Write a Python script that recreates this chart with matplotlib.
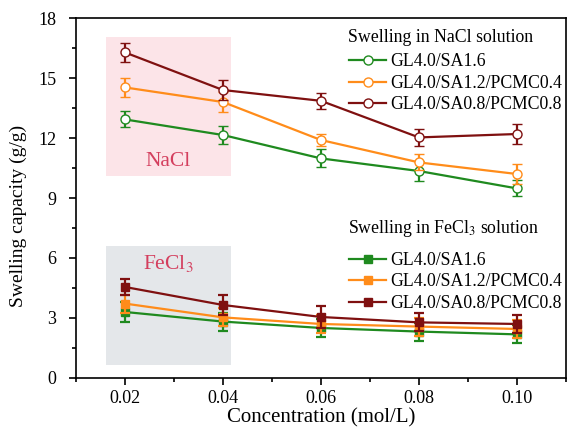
import numpy as np
import matplotlib
matplotlib.use("Agg")
import matplotlib.pyplot as plt
from matplotlib.lines import Line2D
from matplotlib.patches import Rectangle

plt.rcParams['font.family'] = ['Liberation Serif', 'DejaVu Serif']
plt.rcParams['mathtext.fontset'] = 'stix'

conc = [0.02, 0.04, 0.06, 0.08, 0.10]
labels = ['GL4.0/SA1.6', 'GL4.0/SA1.2/PCMC0.4', 'GL4.0/SA0.8/PCMC0.8']
colors = ['#1f8a1f', '#ff8c1a', '#7f1010']

# swelling in NaCl solution (g/g)
nacl_sa16 = [12.93, 12.15, 10.98, 10.35, 9.48]
nacl_sa12 = [14.53, 13.80, 11.90, 10.78, 10.20]
nacl_sa08 = [16.28, 14.40, 13.86, 12.03, 12.20]
nacl_err16 = [0.40, 0.45, 0.45, 0.50, 0.40]
nacl_err12 = [0.46, 0.50, 0.30, 0.40, 0.50]
nacl_err08 = [0.46, 0.50, 0.40, 0.42, 0.50]

# swelling in FeCl3 solution (g/g)
fecl_sa16 = [3.30, 2.82, 2.50, 2.32, 2.18]
fecl_sa12 = [3.72, 3.03, 2.70, 2.57, 2.45]
fecl_sa08 = [4.55, 3.65, 3.05, 2.78, 2.70]
fecl_err16 = [0.48, 0.45, 0.45, 0.45, 0.45]
fecl_err12 = [0.45, 0.45, 0.45, 0.45, 0.45]
fecl_err08 = [0.42, 0.50, 0.55, 0.45, 0.45]

nacl = [nacl_sa16, nacl_sa12, nacl_sa08]
nacl_err = [nacl_err16, nacl_err12, nacl_err08]
fecl = [fecl_sa16, fecl_sa12, fecl_sa08]
fecl_err = [fecl_err16, fecl_err12, fecl_err08]

fig = plt.figure(figsize=(5.67, 4.4), dpi=100)
ax = fig.add_axes([0.134, 0.141, 0.864, 0.818])

# shaded boxes behind the two groups
ax.add_patch(Rectangle((0.0161, 10.1), 0.0256, 6.95, facecolor='#fce4e8',
                       edgecolor='none', zorder=0))
ax.add_patch(Rectangle((0.0161, 0.65), 0.0256, 5.95, facecolor='#e4e7ea',
                       edgecolor='none', zorder=0))
ax.text(0.0288, 10.85, 'NaCl', color='#d43f5e', fontsize=15.5,
        ha='center', va='center')
ax.text(0.0288, 5.7, r'FeCl$_3$', color='#d43f5e', fontsize=15.5,
        ha='center', va='center')

for i in range(3):
    ax.errorbar(conc, nacl[i], yerr=nacl_err[i], color=colors[i], lw=1.6,
                marker='o', ms=6.5, mfc='white', mec=colors[i], mew=1.0,
                capsize=3.5, capthick=1.6, elinewidth=1.6, zorder=3 + i)
    ax.errorbar(conc, fecl[i], yerr=fecl_err[i], color=colors[i], lw=1.6,
                marker='s', ms=5.5, mfc=colors[i], mec=colors[i],
                capsize=3.5, capthick=1.6, elinewidth=1.6, zorder=3 + i)

ax.set_xlim(0.01, 0.11)
ax.set_ylim(0, 18)
ax.set_xticks(conc)
ax.set_xticklabels(['0.02', '0.04', '0.06', '0.08', '0.10'])
ax.set_xticks(np.arange(0.01, 0.111, 0.02), minor=True)
ax.set_yticks(np.arange(0, 19, 3))
ax.set_yticks(np.arange(1.5, 18, 3), minor=True)
ax.tick_params(which='major', length=5, width=1.2, labelsize=13, direction='out')
ax.tick_params(which='minor', length=3, width=1.2, direction='out')
ax.tick_params(axis='y', which='major', pad=9)
for s in ax.spines.values():
    s.set_linewidth(1.2)

ax.set_xlabel('Concentration (mol/L)', fontsize=15, labelpad=1)
ax.set_ylabel('Swelling capacity (g/g)', fontsize=14)
ax.yaxis.set_label_coords(-0.1, 0.45)

open_h = [Line2D([], [], color=c, lw=1.6, marker='o', ms=6.5, mfc='white',
                 mec=c, mew=1.0) for c in colors]
fill_h = [Line2D([], [], color=c, lw=1.6, marker='s', ms=5.5, mfc=c,
                 mec=c) for c in colors]

# legend titles as plain text, entries below them
fig.text(348 / 567, 1 - 37 / 440, 'Swelling in NaCl solution',
         fontsize=12.8, ha='left', va='center')
fig.text(348 / 567, 1 - 228 / 440, r'Swelling in FeCl$_3$ solution',
         fontsize=12.8, ha='left', va='center')

leg_kw = dict(frameon=False, fontsize=12.8, borderpad=0, borderaxespad=0,
              handlelength=2.1, handletextpad=0.22, labelspacing=0.25,
              loc='upper left', bbox_transform=fig.transFigure)
leg1 = ax.legend(open_h, labels, bbox_to_anchor=(349 / 567, 1 - 53.5 / 440),
                 **leg_kw)
ax.add_artist(leg1)
ax.legend(fill_h, labels, bbox_to_anchor=(349 / 567, 1 - 252 / 440), **leg_kw)

fig.savefig('out.png', dpi=100)
